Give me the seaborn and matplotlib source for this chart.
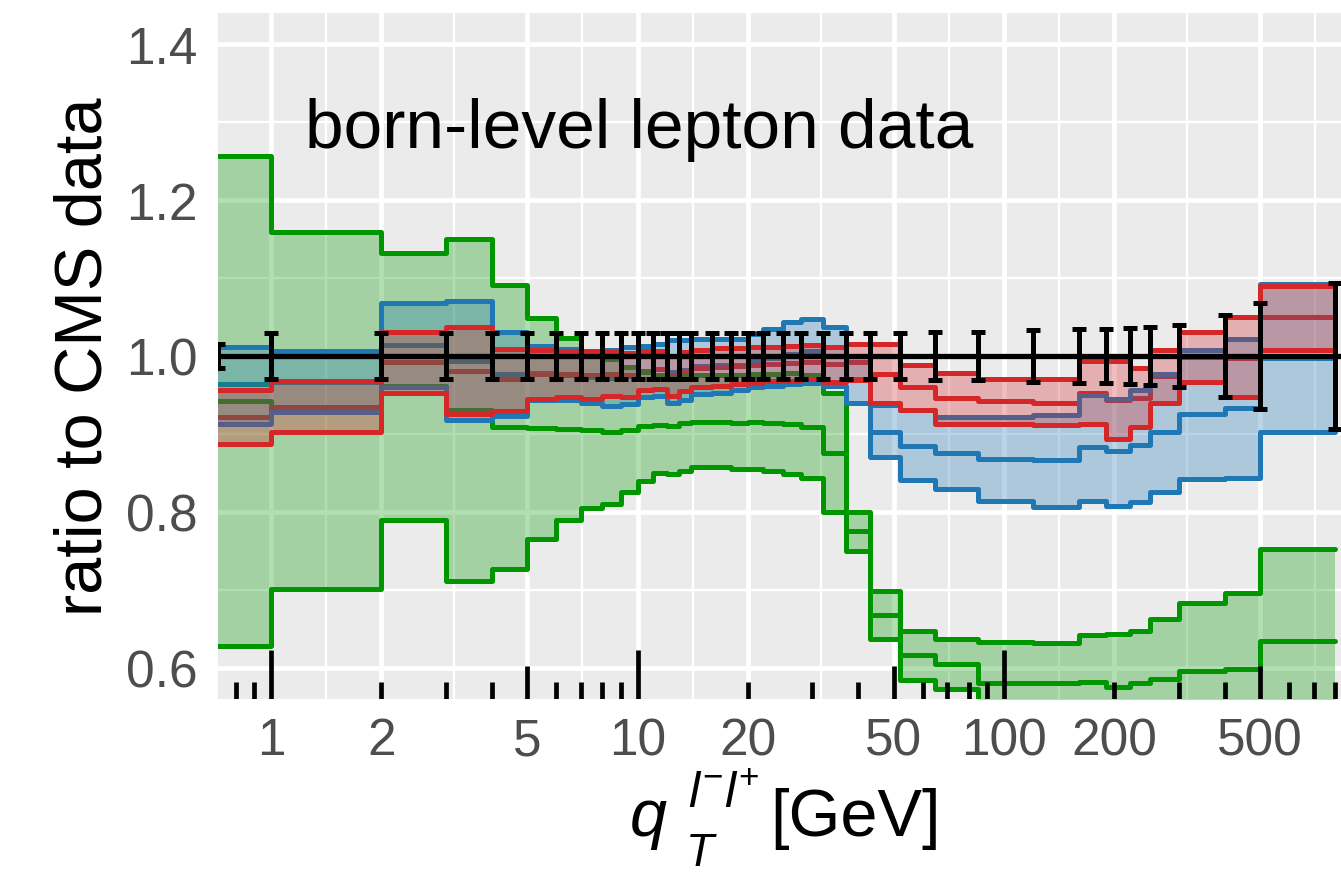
import numpy as np
import matplotlib
matplotlib.use("Agg")
import matplotlib.pyplot as plt
import matplotlib.transforms as mtransforms
from matplotlib.ticker import FixedLocator, NullFormatter
import seaborn as sns

# lower edges of the q_T bins in GeV (first bin starts at 0, last point closes the 500-800 bin)
qt_lo = [0, 1, 2, 3, 4, 5, 6, 7, 8, 9, 10, 11, 12, 13, 14, 16, 18, 20, 22, 25,
         28, 32, 37, 43, 52, 65, 85, 120, 160, 190, 220, 250, 300, 400, 500, 800]

# relative uncertainty of the CMS measurement at each point
data_err = [0.016, 0.030, 0.030, 0.030, 0.030, 0.030, 0.030, 0.030, 0.030, 0.030,
            0.030, 0.030, 0.030, 0.030, 0.030, 0.030, 0.030, 0.030, 0.030, 0.030,
            0.030, 0.030, 0.030, 0.030, 0.030, 0.031, 0.031, 0.033, 0.034, 0.035,
            0.036, 0.037, 0.040, 0.052, 0.068, 0.094]

# prediction / data, one value per bin: upper edge, central value, lower edge
green_up = [1.256, 1.159, 1.132, 1.150, 1.091, 1.049, 1.023, 1.005, 0.996, 0.986,
            0.980, 0.975, 0.973, 0.975, 0.975, 0.975, 0.975, 0.977, 0.977, 0.978,
            0.975, 0.952, 0.800, 0.699, 0.647, 0.637, 0.633, 0.632, 0.642, 0.643,
            0.647, 0.663, 0.683, 0.696, 0.752]
green_mid = [0.942, 0.930, 0.961, 0.931, 0.909, 0.907, 0.906, 0.905, 0.903, 0.905,
             0.910, 0.912, 0.910, 0.914, 0.915, 0.915, 0.914, 0.915, 0.914, 0.913,
             0.909, 0.876, 0.775, 0.668, 0.616, 0.605, 0.580, 0.580, 0.582, 0.576,
             0.580, 0.586, 0.596, 0.598, 0.634]
green_lo = [0.628, 0.701, 0.790, 0.712, 0.727, 0.765, 0.790, 0.805, 0.810, 0.826,
            0.840, 0.850, 0.848, 0.853, 0.858, 0.857, 0.855, 0.855, 0.853, 0.849,
            0.843, 0.800, 0.750, 0.637, 0.585, 0.573, 0.527, 0.528, 0.522, 0.509,
            0.513, 0.509, 0.509, 0.500, 0.516]

blue_up = [1.012, 1.006, 1.068, 1.070, 1.031, 1.013, 1.009, 1.007, 1.008, 1.011,
           1.013, 1.016, 1.020, 1.020, 1.022, 1.022, 1.022, 1.028, 1.035, 1.043,
           1.047, 1.037, 1.000, 0.937, 0.931, 0.922, 0.922, 0.924, 0.950, 0.945,
           0.957, 0.977, 1.008, 1.022, 1.093]
blue_mid = [0.964, 0.967, 1.014, 0.994, 0.977, 0.978, 0.976, 0.973, 0.972, 0.974,
            0.980, 0.983, 0.980, 0.982, 0.987, 0.988, 0.989, 0.994, 0.998, 1.003,
            1.006, 1.000, 0.970, 0.903, 0.885, 0.876, 0.868, 0.866, 0.883, 0.878,
            0.886, 0.902, 0.926, 0.933, 0.998]
blue_lo = [0.913, 0.928, 0.960, 0.918, 0.923, 0.943, 0.943, 0.940, 0.936, 0.938,
           0.947, 0.949, 0.940, 0.943, 0.951, 0.953, 0.956, 0.960, 0.962, 0.964,
           0.966, 0.962, 0.940, 0.870, 0.841, 0.829, 0.814, 0.806, 0.814, 0.808,
           0.813, 0.826, 0.842, 0.844, 0.902]

red_up = [0.957, 0.968, 1.031, 1.037, 1.009, 1.008, 1.006, 1.006, 1.005, 1.004,
          1.006, 1.007, 1.000, 1.005, 1.008, 1.010, 1.010, 1.012, 1.012, 1.013,
          1.014, 1.012, 1.016, 1.016, 0.988, 0.978, 0.970, 0.970, 0.993, 0.993,
          0.984, 1.008, 1.031, 1.050, 1.090]
red_mid = [0.922, 0.935, 0.992, 0.981, 0.970, 0.977, 0.977, 0.975, 0.977, 0.976,
           0.981, 0.983, 0.975, 0.980, 0.984, 0.986, 0.987, 0.989, 0.990, 0.991,
           0.992, 0.990, 0.992, 0.977, 0.960, 0.946, 0.942, 0.940, 0.953, 0.944,
           0.946, 0.974, 0.999, 0.998, 1.050]
red_lo = [0.887, 0.903, 0.953, 0.926, 0.930, 0.945, 0.948, 0.945, 0.949, 0.948,
          0.956, 0.958, 0.949, 0.955, 0.960, 0.962, 0.964, 0.966, 0.968, 0.968,
          0.970, 0.967, 0.969, 0.940, 0.931, 0.913, 0.913, 0.911, 0.913, 0.894,
          0.909, 0.940, 0.967, 0.947, 1.008]

x_breaks = [1, 2, 5, 10, 20, 50, 100, 200, 500]
x_labels = ["1", "2", "5", "10", "20", "50", "100", "200", "500"]
y_breaks = [0.6, 0.8, 1.0, 1.2, 1.4]
y_labels = ["0.6", "0.8", "1.0", "1.2", "1.4"]

GREEN, BLUE, RED = "#009600", "#1f77b4", "#d62728"

sns.set_theme(style="darkgrid", rc={
    "axes.facecolor": "#EBEBEB",
    "grid.color": "white",
    "axes.edgecolor": "#EBEBEB",
})
plt.rcParams["font.family"] = ["Liberation Sans", "DejaVu Sans"]
plt.rcParams["mathtext.fontset"] = "custom"
plt.rcParams["mathtext.rm"] = "Liberation Sans"
plt.rcParams["mathtext.it"] = "Liberation Sans:italic"

W, H = 1341, 879
fig = plt.figure(figsize=(W / 100, H / 100), dpi=100)
ax = fig.add_axes([218 / W, 179 / H, (W - 218) / W, 686 / H])
ax.set_xscale("log")
XMIN, XMAX = 0.716, 831.0
ax.set_xlim(XMIN, XMAX)
ax.set_ylim(0.56, 1.44)
for s in ax.spines.values():
    s.set_visible(False)

# bin edges on the log axis: the bin starting at 0 is pinned to the panel edge
x = np.array(qt_lo, dtype=float)
x[x <= 0] = XMIN


def closed(v):
    return np.append(np.asarray(v, dtype=float), v[-1])


LW = 3.6
bands = [
    (GREEN, green_up, green_mid, green_lo, 2),
    (BLUE, blue_up, blue_mid, blue_lo, 3),
    (RED, red_up, red_mid, red_lo, 4),
]

# central predictions sit underneath every band
for col, up, mid, lo, z in bands:
    sns.lineplot(x=x, y=closed(mid), drawstyle="steps-post", color=col, lw=LW,
                 estimator=None, sort=False, ax=ax, zorder=1)

for col, up, mid, lo, z in bands:
    ax.fill_between(x, closed(lo), closed(up), step="post", color=col,
                    alpha=0.3, lw=0, zorder=z)
    for edge in (up, lo):
        sns.lineplot(x=x, y=closed(edge), drawstyle="steps-post", color=col,
                     lw=LW, estimator=None, sort=False, ax=ax, zorder=z + 0.1)

# log tick marks along the bottom of the panel
trans = mtransforms.blended_transform_factory(ax.transData, ax.transAxes)
for dec in (0.1, 1, 10, 100):
    for m in range(1, 10):
        v = m * dec
        if v < XMIN or v > XMAX:
            continue
        length = 0.071 if m == 1 else (0.048 if m == 5 else 0.025)
        ax.plot([v, v], [0, length], transform=trans, color="black", lw=3.4,
                solid_capstyle="butt", zorder=5)

# data: ratio of one with its uncertainty
ax.axhline(1.0, color="black", lw=3.8, zorder=6)
ax.errorbar(x, np.ones(len(x)), yerr=data_err, fmt="none", ecolor="black",
            elinewidth=3.6, capsize=5.0, capthick=3.6, zorder=6)

ax.text(1.24, 1.268, "born-level lepton data", fontsize=50, color="black",
        ha="left", va="baseline", zorder=7)

# axes, grid and ticks
ax.xaxis.set_major_locator(FixedLocator(x_breaks))
ax.set_xticklabels(x_labels)
minor_x = [np.sqrt(a * b) for a, b in zip(x_breaks[:-1], x_breaks[1:])]
minor_x.append(np.sqrt(500 * 1000))
ax.xaxis.set_minor_locator(FixedLocator(minor_x))
ax.xaxis.set_minor_formatter(NullFormatter())
ax.yaxis.set_major_locator(FixedLocator(y_breaks))
ax.set_yticklabels(y_labels)
ax.yaxis.set_minor_locator(FixedLocator([0.7, 0.9, 1.1, 1.3]))
ax.set_axisbelow(True)
ax.grid(which="major", color="white", lw=3.4)
ax.grid(which="minor", color="white", lw=1.7)
ax.tick_params(which="major", length=9.4, width=3.2, color="#333333",
               labelsize=37, labelcolor="#4D4D4D", pad=3)
ax.tick_params(axis="y", which="major", pad=5.5)
ax.tick_params(which="minor", length=0)
ax.set_xlabel("")
ax.set_ylabel("")

fig.text(85 / W, 1 - 357 / H, "ratio to CMS data", rotation=90, fontsize=48,
         ha="center", va="center", color="black")


# x-axis title assembled from pieces placed in pixel coordinates
def ptext(px, py, s, **kw):
    fig.text(px / W, 1 - py / H, s, ha="left", va="baseline", color="black", **kw)


ptext(630, 836, "q", fontsize=48, style="italic")
ptext(686, 866, "T", fontsize=33, style="italic")
ptext(688, 808, r"$l^{-}l^{+}$", fontsize=36)
ptext(770, 836, "[GeV]", fontsize=48)

fig.savefig("out.png", dpi=100)
